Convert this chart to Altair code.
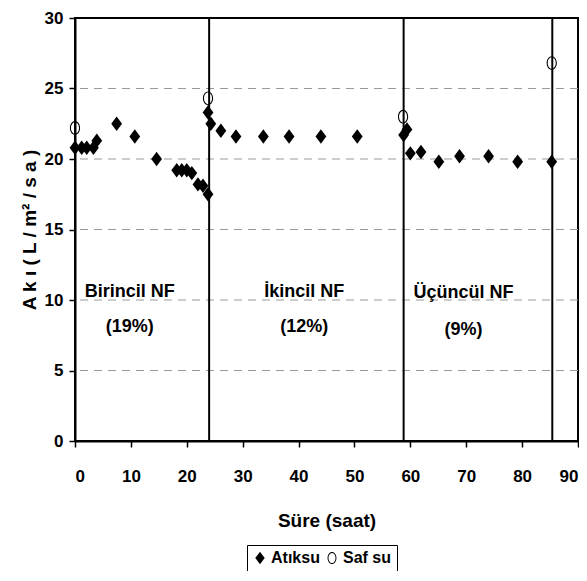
import altair as alt
import pandas as pd

FONT = "Liberation Sans, Arial, sans-serif"

# Atıksu (wastewater) flux
atik_x = [0, 1.2, 2.1, 3.3, 3.9, 7.45, 10.7, 14.6, 18.2, 19.1, 20.0, 20.9, 22.0, 22.9,
          23.8, 23.8, 24.3, 26.1, 28.8, 33.7, 38.3, 44.0, 50.5,
          58.8, 59.4, 60.0, 61.9, 65.1, 68.8, 74.0, 79.2, 85.3]
atik_y = [20.8, 20.8, 20.8, 20.8, 21.3, 22.5, 21.6, 20.0, 19.2, 19.2, 19.2, 19.0, 18.2, 18.1,
          17.5, 23.3, 22.5, 22.0, 21.6, 21.6, 21.6, 21.6, 21.6,
          21.7, 22.1, 20.4, 20.5, 19.8, 20.2, 20.2, 19.8, 19.8]
# Saf su (pure water) flux
saf_x = [0, 23.8, 58.7, 85.3]
saf_y = [22.2, 24.3, 23.0, 26.8]

series_names = ["Atıksu", "Saf su"]
stage_lines = [24, 58.8, 85.4]
grid_values = [5, 10, 15, 20, 25]

stage_names = ["Birincil NF", "İkincil NF", "Üçüncül NF"]
stage_pcts = ["(19%)", "(12%)", "(9%)"]
stage_x = [9.8, 41.0, 69.5]
stage_name_y = [10.6, 10.6, 10.5]
stage_pct_y = [8.1, 8.1, 7.9]

x_ticks = list(range(0, 91, 10))
y_ticks = list(range(0, 31, 5))

pts = pd.DataFrame({
    "x": atik_x + saf_x,
    "y": atik_y + saf_y,
    "series": [series_names[0]] * len(atik_x) + [series_names[1]] * len(saf_x),
})
grid_df = pd.DataFrame({"y": grid_values})
lines_df = pd.DataFrame({"x": stage_lines})
text_df = pd.DataFrame({
    "x": stage_x + stage_x,
    "y": stage_name_y + stage_pct_y,
    "t": stage_names + stage_pcts,
})

xs = alt.Scale(domain=[0, 90], nice=False, zero=False)
ys = alt.Scale(domain=[0, 30], nice=False, zero=False)

DIAMOND = "M0,-1.2L0.9,0L0,1.2L-0.9,0Z"
# open ellipse drawn as a ring (outer clockwise, inner counter-clockwise)
RING = ("M0,-1.15A0.85,1.15 0 1,1 0,1.15A0.85,1.15 0 1,1 0,-1.15Z"
        "M0,-0.97A0.67,0.97 0 1,0 0,0.97A0.67,0.97 0 1,0 0,-0.97Z")

legend = alt.Legend(
    title=None, orient="none", legendX=172, legendY=527, direction="horizontal",
    strokeColor="black", padding=5, labelFont=FONT, labelFontSize=16,
    labelFontWeight="bold", labelColor="black", symbolSize=110,
    symbolFillColor="black", symbolStrokeWidth=0, columnPadding=4, labelOffset=3,
    cornerRadius=0,
)

grid = alt.Chart(grid_df).mark_rule(color="#999999", strokeDash=[8, 6], strokeWidth=1).encode(
    y=alt.Y("y:Q", scale=ys)
)
vlines = alt.Chart(lines_df).mark_rule(color="black", strokeWidth=2).encode(
    x=alt.X("x:Q", scale=xs)
)

points = alt.Chart(pts).mark_point(size=144, filled=True, color="black", strokeWidth=0,
                                   opacity=1).encode(
    x=alt.X("x:Q", scale=xs, title="Süre (saat)",
            axis=alt.Axis(values=x_ticks, grid=False, tickSize=6, labelPadding=21,
                          titlePadding=27)),
    y=alt.Y("y:Q", scale=ys, title="A k ı  ( L / m² / s a )",
            axis=alt.Axis(values=y_ticks, grid=False, tickSize=6, labelPadding=6,
                          titlePadding=5)),
    shape=alt.Shape("series:N", scale=alt.Scale(domain=series_names, range=[DIAMOND, RING]),
                    legend=legend),
)

labels = alt.Chart(text_df).mark_text(font=FONT, fontSize=18, fontWeight="bold", color="black",
                                      baseline="middle", align="center").encode(
    x=alt.X("x:Q", scale=xs), y=alt.Y("y:Q", scale=ys), text="t:N"
)

chart = alt.layer(grid, vlines, points, labels).properties(
    width=503, height=423,
    autosize=alt.AutoSizeParams(type="none"),
    padding={"left": 67, "top": 10, "right": 1, "bottom": 130},
).configure_view(
    stroke="black", strokeWidth=2
).configure_axis(
    domainColor="black", domainWidth=2, tickColor="black", tickWidth=1.5,
    labelFont=FONT, labelFontSize=17, labelFontWeight="bold", labelColor="black",
    titleFont=FONT, titleFontSize=19, titleFontWeight="bold", titleColor="black",
)

chart.save("out.html", embed_options={"renderer": "svg", "actions": False})
